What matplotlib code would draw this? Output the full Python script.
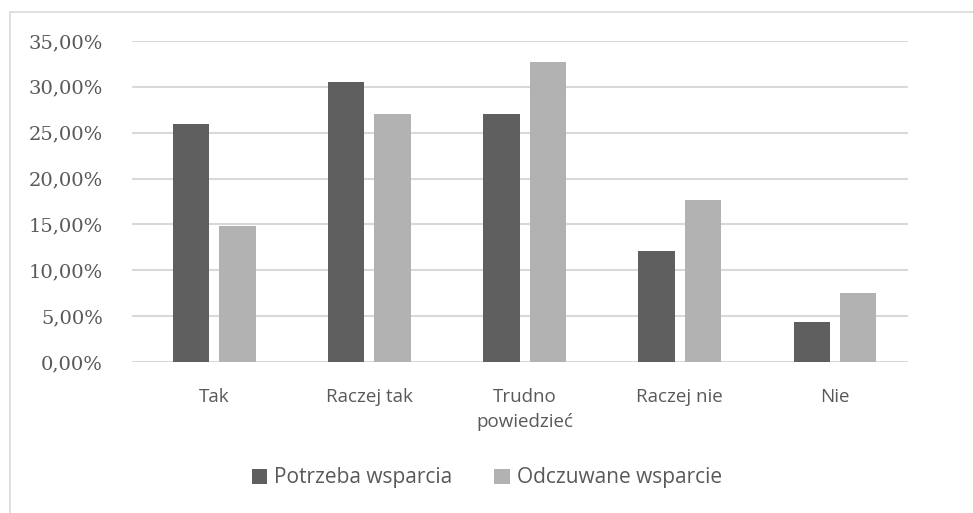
import matplotlib
matplotlib.use("Agg")
import matplotlib.pyplot as plt
import numpy as np
from matplotlib.patches import Rectangle
from matplotlib.ticker import FuncFormatter

categories = ["Tak", "Raczej tak", "Trudno\npowiedzieć", "Raczej nie", "Nie"]
series_names = ["Potrzeba wsparcia", "Odczuwane wsparcie"]
potrzeba = [25.9, 30.5, 27.0, 12.1, 4.4]
odczuwane = [14.8, 27.0, 32.7, 17.7, 7.5]
colors = ["#5f5f5f", "#b2b2b2"]
yticks = [0, 5, 10, 15, 20, 25, 30, 35]

fig = plt.figure(figsize=(9.73, 5.13), dpi=100)
fig.patch.set_facecolor("white")
# outer chart border
fig.add_artist(Rectangle((10/973, -0.1), 1.2, (513-12)/513 + 0.1, transform=fig.transFigure,
                         fill=False, edgecolor="#d9d9d9", linewidth=1.2))

ax = fig.add_axes([132/973, 1-362/513, (908-132)/973, (362-41)/513])
x = np.arange(len(categories))
w = 0.235
gap = 0.064
ax.bar(x - (w+gap)/2, potrzeba, w, color=colors[0], label=series_names[0], zorder=3)
ax.bar(x + (w+gap)/2, odczuwane, w, color=colors[1], label=series_names[1], zorder=3)

ax.set_xlim(-0.53, len(categories)-0.53)
ax.set_ylim(0, 35)
ax.set_yticks(yticks)
ax.yaxis.set_major_formatter(FuncFormatter(lambda v, p: f"{v:.2f}%".replace(".", ",")))
ax.set_xticks(x)
ax.set_xticklabels(categories, family="Open Sans", fontsize=13.5, color="#595959", linespacing=1.45)
for lab in ax.get_yticklabels():
    lab.set_family("DejaVu Serif")
    lab.set_fontsize(14)
    lab.set_color("#595959")
ax.tick_params(axis="both", length=0)
ax.tick_params(axis="y", pad=21)
ax.tick_params(axis="x", pad=19)
for s in ax.spines.values():
    s.set_visible(False)
ax.grid(axis="y", color="#d9d9d9", linewidth=1.5, zorder=0)
ax.set_axisbelow(True)

leg = fig.legend(loc="center", bbox_to_anchor=(487/973, 1-478/513), ncol=2, frameon=False,
                 prop={"family": "Open Sans", "size": 15}, handlelength=0.75, handleheight=0.75,
                 handletextpad=0.35, columnspacing=2.0)
for t in leg.get_texts():
    t.set_color("#595959")

fig.savefig("out.png", dpi=100)
